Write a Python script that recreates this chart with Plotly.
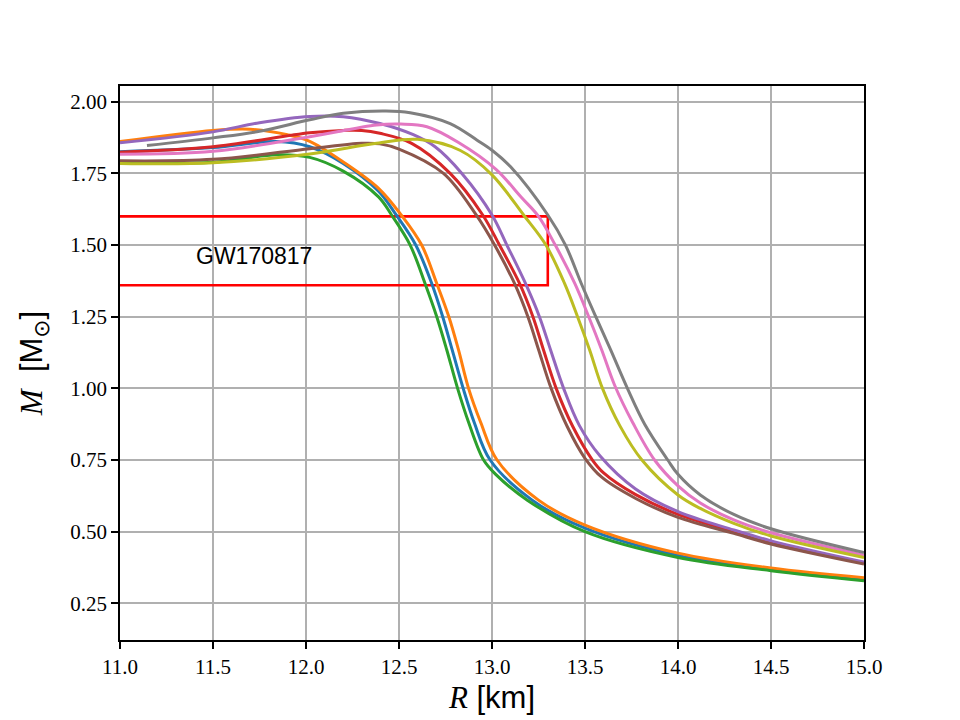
import plotly.graph_objects as go

# ---- data ----
blue_R = [11.0, 11.5, 11.84, 12.02, 12.2, 12.39, 12.485, 12.59, 12.676, 12.735, 12.786, 12.845, 12.905, 12.99, 13.216, 13.5, 14.0, 14.5, 15.0]
blue_M = [1.826, 1.840, 1.861, 1.843, 1.785, 1.688, 1.605, 1.50, 1.366, 1.25, 1.134, 1.00, 0.88, 0.75, 0.61, 0.512, 0.417, 0.368, 0.332]

orange_R = [11.0, 11.5, 11.7, 11.9, 12.02, 12.2, 12.39, 12.512, 12.622, 12.703, 12.768, 12.82, 12.874, 12.94, 13.027, 13.25, 13.5, 14.0, 14.5, 15.0]
orange_M = [1.861, 1.900, 1.904, 1.885, 1.862, 1.79, 1.698, 1.605, 1.50, 1.366, 1.25, 1.134, 1.00, 0.88, 0.75, 0.61, 0.523, 0.425, 0.373, 0.339]

green_R = [11.0, 11.5, 11.84, 12.02, 12.2, 12.39, 12.46, 12.56, 12.64, 12.703, 12.757, 12.815, 12.875, 12.955, 13.02, 13.19, 13.5, 14.0, 14.5, 15.0]
green_M = [1.787, 1.789, 1.815, 1.806, 1.758, 1.668, 1.605, 1.50, 1.366, 1.25, 1.134, 1.00, 0.88, 0.75, 0.70, 0.61, 0.50, 0.41, 0.364, 0.329]

red_R = [11.0, 11.5, 12.02, 12.2, 12.3, 12.397, 12.568, 12.775, 12.95, 13.04, 13.148, 13.22, 13.277, 13.345, 13.435, 13.54, 13.6, 13.77, 14.0, 14.3, 14.5, 15.0]
red_M = [1.824, 1.843, 1.892, 1.90, 1.90, 1.89, 1.855, 1.75, 1.605, 1.50, 1.366, 1.25, 1.134, 1.00, 0.866, 0.75, 0.705, 0.63, 0.56, 0.50, 0.462, 0.391]

purple_R = [11.0, 11.5, 11.75, 12.02, 12.2, 12.397, 12.577, 12.694, 12.838, 13.0, 13.08, 13.18, 13.255, 13.315, 13.385, 13.47, 13.58, 13.77, 14.0, 14.3, 14.5, 15.0]
purple_M = [1.857, 1.895, 1.927, 1.949, 1.948, 1.924, 1.885, 1.843, 1.75, 1.605, 1.50, 1.366, 1.25, 1.134, 1.00, 0.87, 0.765, 0.65, 0.57, 0.506, 0.468, 0.394]

brown_R = [11.0, 11.5, 12.02, 12.3, 12.397, 12.5, 12.739, 12.915, 13.014, 13.121, 13.193, 13.251, 13.318, 13.405, 13.5, 13.59, 13.775, 14.0, 14.3, 14.5, 15.0]
brown_M = [1.794, 1.799, 1.836, 1.855, 1.853, 1.835, 1.75, 1.605, 1.50, 1.366, 1.25, 1.134, 1.00, 0.866, 0.756, 0.69, 0.615, 0.55, 0.494, 0.457, 0.387]

pink_R = [11.0, 11.5, 12.02, 12.38, 12.51, 12.65, 12.82, 13.02, 13.16, 13.25, 13.34, 13.445, 13.52, 13.59, 13.66, 13.757, 13.874, 14.0, 14.12, 14.3, 14.5, 15.0]
pink_M = [1.817, 1.827, 1.878, 1.919, 1.922, 1.913, 1.858, 1.765, 1.665, 1.60, 1.50, 1.366, 1.25, 1.134, 1.01, 0.88, 0.75, 0.66, 0.60, 0.541, 0.496, 0.418]

gray_R = [11.145, 11.5, 11.75, 12.02, 12.2, 12.43, 12.56, 12.775, 12.92, 13.0, 13.1, 13.3, 13.395, 13.48, 13.558, 13.638, 13.728, 13.82, 13.945, 14.0, 14.12, 14.3, 14.5, 15.0]
gray_M = [1.847, 1.874, 1.897, 1.937, 1.96, 1.968, 1.962, 1.924, 1.866, 1.831, 1.773, 1.605, 1.50, 1.366, 1.25, 1.134, 1.00, 0.876, 0.75, 0.70, 0.628, 0.56, 0.51, 0.427]

olive_R = [11.0, 11.5, 12.02, 12.38, 12.6, 12.83, 13.0, 13.17, 13.29, 13.39, 13.46, 13.525, 13.594, 13.687, 13.806, 14.0, 14.12, 14.3, 14.5, 15.0]
olive_M = [1.785, 1.787, 1.818, 1.855, 1.869, 1.83, 1.745, 1.605, 1.50, 1.366, 1.25, 1.134, 1.00, 0.87, 0.75, 0.628, 0.581, 0.529, 0.485, 0.41]

rect_R = [10.0, 13.3, 13.3, 10.0]
rect_M = [1.60, 1.60, 1.36, 1.36]
rect_label = "GW170817"

x_ticks = [11.0, 11.5, 12.0, 12.5, 13.0, 13.5, 14.0, 14.5, 15.0]
y_ticks = [0.25, 0.50, 0.75, 1.00, 1.25, 1.50, 1.75, 2.00]

curves = [
    (blue_R, blue_M, "#1f77b4"),
    (orange_R, orange_M, "#ff7f0e"),
    (green_R, green_M, "#2ca02c"),
    (red_R, red_M, "#d62728"),
    (purple_R, purple_M, "#9467bd"),
    (brown_R, brown_M, "#8c564b"),
    (pink_R, pink_M, "#e377c2"),
    (gray_R, gray_M, "#7f7f7f"),
    (olive_R, olive_M, "#bcbd22"),
]

fig = go.Figure()
fig.add_trace(go.Scatter(x=rect_R, y=rect_M, mode="lines",
                         line=dict(color="#ff0000", width=2.6), showlegend=False))
for R, M, c in curves:
    fig.add_trace(go.Scatter(x=R, y=M, mode="lines",
                             line=dict(color=c, width=3, shape="spline", smoothing=1.0),
                             showlegend=False))

fig.add_annotation(x=11.4, y=1.462, text=rect_label, showarrow=False,
                   xanchor="left", yanchor="middle",
                   font=dict(family="Liberation Sans, Arial, sans-serif", size=23, color="black"))

axis_common = dict(
    showgrid=True, gridcolor="#b0b0b0", gridwidth=1.6,
    showline=True, linecolor="black", linewidth=1.7, mirror=True,
    ticks="outside", ticklen=7, tickwidth=1.6, tickcolor="black",
    tickfont=dict(family="Liberation Serif, Times New Roman, serif", size=21, color="black"),
    zeroline=False,
)

fig.update_xaxes(range=[11.0, 15.0], tickvals=x_ticks,
                 ticktext=[f"{v:.1f}" for v in x_ticks],
                 title=dict(text='<span style="font-family:Liberation Serif"><i>R</i></span> [km]',
                            font=dict(family="Liberation Sans, sans-serif", size=31, color="black"),
                            standoff=8),
                 **axis_common)
fig.update_yaxes(range=[0.122, 2.055], tickvals=y_ticks,
                 ticktext=[f"{v:.2f}" for v in y_ticks],
                 title=dict(text='<span style="font-family:Liberation Serif"><i>M</i></span>  [M<sub>⊙</sub>]',
                            font=dict(family="Liberation Sans, DejaVu Sans, sans-serif", size=31, color="black"),
                            standoff=18),
                 **axis_common)

fig.update_layout(
    width=960, height=720,
    margin=dict(l=120, r=96, t=86, b=80),
    plot_bgcolor="white", paper_bgcolor="white",
    showlegend=False,
)

fig.write_html("out.html")
